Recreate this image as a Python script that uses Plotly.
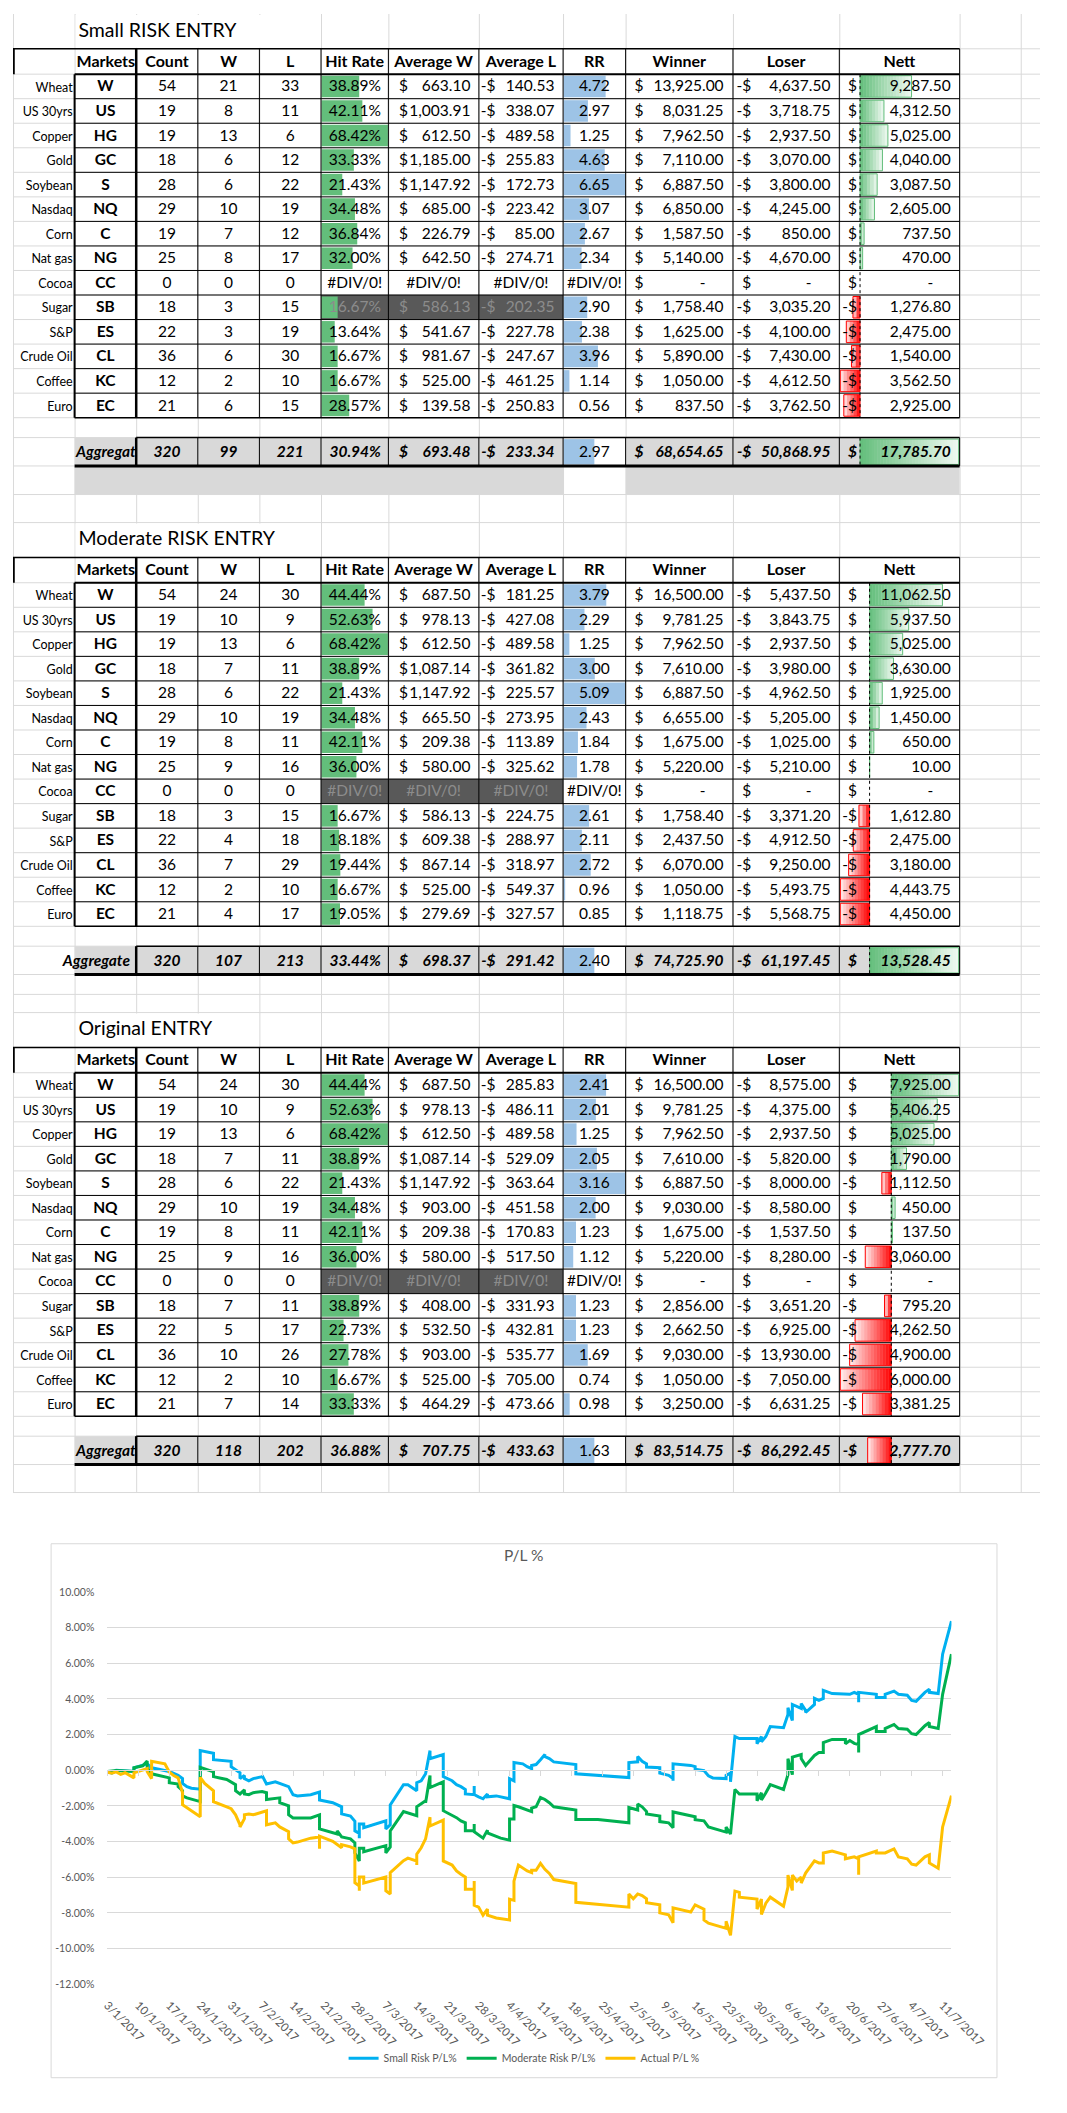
import plotly.graph_objects as go

FIG_W, FIG_H = 1067, 2113

# =============================================================================
# SHEET DATA (three result tables)
# =============================================================================
LABELS = ["Wheat", "US 30yrs", "Copper", "Gold", "Soybean", "Nasdaq", "Corn",
          "Nat gas", "Cocoa", "Sugar", "S&P", "Crude Oil", "Coffee", "Euro"]
CODES = ["W", "US", "HG", "GC", "S", "NQ", "C", "NG", "CC", "SB", "ES", "CL", "KC", "EC"]
COUNT = [54, 19, 19, 18, 28, 29, 19, 25, 0, 18, 22, 36, 12, 21]
HEADERS = ["Markets", "Count", "W", "L", "Hit Rate", "Average W", "Average L",
           "RR", "Winner", "Loser", "Nett"]

SMALL_W = [21, 8, 13, 6, 6, 10, 7, 8, 0, 3, 3, 6, 2, 6]
SMALL_L = [33, 11, 6, 12, 22, 19, 12, 17, 0, 15, 19, 30, 10, 15]
SMALL_HIT = [38.89, 42.11, 68.42, 33.33, 21.43, 34.48, 36.84, 32.00, None, 16.67, 13.64, 16.67, 16.67, 28.57]
SMALL_AVG_W = [663.10, 1003.91, 612.50, 1185.00, 1147.92, 685.00, 226.79, 642.50, None, 586.13, 541.67, 981.67, 525.00, 139.58]
SMALL_AVG_L = [-140.53, -338.07, -489.58, -255.83, -172.73, -223.42, -85.00, -274.71, None, -202.35, -227.78, -247.67, -461.25, -250.83]
SMALL_RR = [4.72, 2.97, 1.25, 4.63, 6.65, 3.07, 2.67, 2.34, None, 2.90, 2.38, 3.96, 1.14, 0.56]
SMALL_WINNER = [13925.00, 8031.25, 7962.50, 7110.00, 6887.50, 6850.00, 1587.50, 5140.00, 0, 1758.40, 1625.00, 5890.00, 1050.00, 837.50]
SMALL_LOSER = [-4637.50, -3718.75, -2937.50, -3070.00, -3800.00, -4245.00, -850.00, -4670.00, 0, -3035.20, -4100.00, -7430.00, -4612.50, -3762.50]
SMALL_NETT = [9287.50, 4312.50, 5025.00, 4040.00, 3087.50, 2605.00, 737.50, 470.00, 0, -1276.80, -2475.00, -1540.00, -3562.50, -2925.00]
SMALL_TOTAL = [320, 99, 221, 30.94, 693.48, -233.34, 2.97, 68654.65, -50868.95, 17785.70]

MOD_W = [24, 10, 13, 7, 6, 10, 8, 9, 0, 3, 4, 7, 2, 4]
MOD_L = [30, 9, 6, 11, 22, 19, 11, 16, 0, 15, 18, 29, 10, 17]
MOD_HIT = [44.44, 52.63, 68.42, 38.89, 21.43, 34.48, 42.11, 36.00, None, 16.67, 18.18, 19.44, 16.67, 19.05]
MOD_AVG_W = [687.50, 978.13, 612.50, 1087.14, 1147.92, 665.50, 209.38, 580.00, None, 586.13, 609.38, 867.14, 525.00, 279.69]
MOD_AVG_L = [-181.25, -427.08, -489.58, -361.82, -225.57, -273.95, -113.89, -325.62, None, -224.75, -288.97, -318.97, -549.37, -327.57]
MOD_RR = [3.79, 2.29, 1.25, 3.00, 5.09, 2.43, 1.84, 1.78, None, 2.61, 2.11, 2.72, 0.96, 0.85]
MOD_WINNER = [16500.00, 9781.25, 7962.50, 7610.00, 6887.50, 6655.00, 1675.00, 5220.00, 0, 1758.40, 2437.50, 6070.00, 1050.00, 1118.75]
MOD_LOSER = [-5437.50, -3843.75, -2937.50, -3980.00, -4962.50, -5205.00, -1025.00, -5210.00, 0, -3371.20, -4912.50, -9250.00, -5493.75, -5568.75]
MOD_NETT = [11062.50, 5937.50, 5025.00, 3630.00, 1925.00, 1450.00, 650.00, 10.00, 0, -1612.80, -2475.00, -3180.00, -4443.75, -4450.00]
MOD_TOTAL = [320, 107, 213, 33.44, 698.37, -291.42, 2.40, 74725.90, -61197.45, 13528.45]

ORIG_W = [24, 10, 13, 7, 6, 10, 8, 9, 0, 7, 5, 10, 2, 7]
ORIG_L = [30, 9, 6, 11, 22, 19, 11, 16, 0, 11, 17, 26, 10, 14]
ORIG_HIT = [44.44, 52.63, 68.42, 38.89, 21.43, 34.48, 42.11, 36.00, None, 38.89, 22.73, 27.78, 16.67, 33.33]
ORIG_AVG_W = [687.50, 978.13, 612.50, 1087.14, 1147.92, 903.00, 209.38, 580.00, None, 408.00, 532.50, 903.00, 525.00, 464.29]
ORIG_AVG_L = [-285.83, -486.11, -489.58, -529.09, -363.64, -451.58, -170.83, -517.50, None, -331.93, -432.81, -535.77, -705.00, -473.66]
ORIG_RR = [2.41, 2.01, 1.25, 2.05, 3.16, 2.00, 1.23, 1.12, None, 1.23, 1.23, 1.69, 0.74, 0.98]
ORIG_WINNER = [16500.00, 9781.25, 7962.50, 7610.00, 6887.50, 9030.00, 1675.00, 5220.00, 0, 2856.00, 2662.50, 9030.00, 1050.00, 3250.00]
ORIG_LOSER = [-8575.00, -4375.00, -2937.50, -5820.00, -8000.00, -8580.00, -1537.50, -8280.00, 0, -3651.20, -6925.00, -13930.00, -7050.00, -6631.25]
ORIG_NETT = [7925.00, 5406.25, 5025.00, 1790.00, -1112.50, 450.00, 137.50, -3060.00, 0, -795.20, -4262.50, -4900.00, -6000.00, -3381.25]
ORIG_TOTAL = [320, 118, 202, 36.88, 707.75, -433.63, 1.63, 83514.75, -86292.45, -2777.70]

# =============================================================================
# CHART DATA: cumulative P/L % (date as MM-DD in 2017, value in %)
# =============================================================================
SMALL_RISK_PL = [
    ("01-03", -0.07), ("01-04", -0.16), ("01-05", 0.00), ("01-09", -0.07), ("01-09", 0.14),
    ("01-12", 0.36), ("01-13", 0.14), ("01-17", -0.07), ("01-19", -0.29), ("01-20", -0.47),
    ("01-20", -0.74), ("01-21", -0.92), ("01-22", -1.01), ("01-24", -1.06), ("01-24", 1.10),
    ("01-27", 0.95), ("01-27", 0.59), ("01-31", 0.50), ("01-31", 0.20), ("02-02", -0.14),
    ("02-02", -0.47), ("02-03", -0.29), ("02-03", -0.47), ("02-04", -0.59), ("02-05", -0.47),
    ("02-07", -0.36), ("02-07", -0.29), ("02-08", -0.77), ("02-10", -0.65), ("02-11", -0.74),
    ("02-13", -0.92), ("02-14", -1.37), ("02-15", -1.44), ("02-18", -1.37), ("02-20", -1.22),
    ("02-20", -1.67), ("02-23", -1.82), ("02-25", -2.05), ("02-25", -2.45), ("02-27", -2.57),
    ("02-28", -2.86), ("02-28", -3.40), ("03-01", -3.54), ("03-01", -3.81), ("03-01", -3.02),
    ("03-02", -3.02), ("03-02", -3.22), ("03-07", -2.84), ("03-07", -3.29), ("03-08", -3.06),
    ("03-08", -1.94), ("03-11", -0.81), ("03-12", -0.81), ("03-14", -1.15), ("03-14", -0.70),
    ("03-15", -0.59), ("03-16", -0.20), ("03-17", 1.10), ("03-17", 0.65), ("03-20", 0.88),
    ("03-20", -0.36), ("03-22", -0.59), ("03-23", -0.81), ("03-24", -0.92), ("03-25", -1.08),
    ("03-25", -1.33), ("03-27", -1.37), ("03-27", -0.88), ("03-27", -1.37), ("03-28", -1.49),
    ("03-29", -1.60), ("03-30", -1.33), ("03-30", -1.49), ("04-01", -1.44), ("04-04", -1.60),
    ("04-04", -0.47), ("04-05", -0.59), ("04-05", 0.43), ("04-07", 0.36), ("04-08", 0.20),
    ("04-09", 0.09), ("04-09", 0.27), ("04-10", 0.32), ("04-11", 0.59), ("04-12", 0.88),
    ("04-12", 0.77), ("04-13", 0.65), ("04-14", 0.47), ("04-19", 0.32), ("04-19", -0.20),
    ("05-01", -0.41), ("05-01", 0.43), ("05-03", 0.47), ("05-03", 0.77), ("05-04", 0.50),
    ("05-05", 0.36), ("05-05", 0.18), ("05-08", 0.14), ("05-08", -0.16), ("05-10", -0.29),
    ("05-11", -0.47), ("05-11", -0.59), ("05-11", 0.36), ("05-15", 0.27), ("05-16", 0.20),
    ("05-16", 0.05), ("05-18", -0.02), ("05-19", -0.31), ("05-20", -0.43), ("05-23", -0.47),
    ("05-23", -0.29), ("05-24", -0.16), ("05-24", -0.65), ("05-25", 1.89), ("05-26", 1.78),
    ("05-30", 1.78), ("05-30", 1.49), ("05-31", 1.89), ("05-31", 1.60), ("06-01", 1.89),
    ("06-02", 2.45), ("06-05", 2.39), ("06-06", 3.13), ("06-06", 3.51), ("06-07", 2.79),
    ("06-07", 3.69), ("06-08", 3.58), ("06-09", 3.47), ("06-09", 3.74), ("06-10", 3.36),
    ("06-10", 3.24), ("06-12", 3.69), ("06-12", 4.03), ("06-13", 3.92), ("06-14", 4.03),
    ("06-14", 4.48), ("06-16", 4.30), ("06-20", 4.26), ("06-21", 4.37), ("06-22", 4.26),
    ("06-22", 3.81), ("06-22", 4.37), ("06-26", 4.26), ("06-26", 4.08), ("06-28", 4.08),
    ("06-28", 4.26), ("06-30", 4.44), ("07-01", 4.26), ("07-03", 4.21), ("07-04", 3.92),
    ("07-05", 3.87), ("07-07", 4.37), ("07-08", 4.55), ("07-08", 4.37), ("07-10", 4.30),
    ("07-11", 6.51), ("07-13", 8.36),
]

MODERATE_RISK_PL = [
    ("01-03", -0.07), ("01-05", -0.02), ("01-09", -0.07), ("01-09", 0.14), ("01-11", 0.25),
    ("01-12", 0.52), ("01-12", 0.14), ("01-13", -0.20), ("01-17", -0.43), ("01-17", -0.70),
    ("01-19", -0.77), ("01-19", -0.92), ("01-20", -1.15), ("01-20", -1.44), ("01-21", -1.55),
    ("01-23", -1.71), ("01-24", -1.76), ("01-24", 0.16), ("01-25", 0.09), ("01-27", -0.09),
    ("01-27", -0.36), ("01-30", -0.52), ("02-01", -0.81), ("02-01", -1.15), ("02-02", -1.33),
    ("02-03", -1.10), ("02-03", -1.33), ("02-04", -1.37), ("02-05", -1.26), ("02-07", -1.19),
    ("02-08", -1.26), ("02-08", -1.64), ("02-11", -1.55), ("02-11", -1.82), ("02-13", -2.00),
    ("02-13", -2.50), ("02-14", -2.68), ("02-18", -2.68), ("02-20", -2.50), ("02-20", -3.29),
    ("02-24", -3.58), ("02-24", -3.40), ("02-25", -3.74), ("02-27", -3.85), ("02-28", -4.08),
    ("02-28", -4.64), ("03-01", -5.09), ("03-01", -4.37), ("03-02", -4.37), ("03-02", -4.57),
    ("03-07", -4.23), ("03-07", -4.64), ("03-08", -4.30), ("03-08", -3.40), ("03-11", -2.32),
    ("03-14", -2.55), ("03-14", -2.05), ("03-16", -1.71), ("03-16", -1.82), ("03-17", -0.29),
    ("03-17", -0.97), ("03-20", -0.65), ("03-20", -2.27), ("03-23", -2.66), ("03-24", -2.84),
    ("03-25", -2.95), ("03-25", -3.40), ("03-27", -3.40), ("03-27", -3.02), ("03-27", -3.45),
    ("03-29", -3.81), ("03-30", -3.36), ("03-30", -3.52), ("04-02", -3.81), ("04-04", -3.92),
    ("04-04", -2.73), ("04-05", -2.73), ("04-05", -1.98), ("04-06", -2.05), ("04-08", -2.23),
    ("04-09", -2.32), ("04-09", -2.12), ("04-10", -2.05), ("04-11", -1.53), ("04-12", -1.64),
    ("04-13", -1.82), ("04-14", -2.05), ("04-19", -2.23), ("04-19", -2.77), ("04-24", -2.77),
    ("05-01", -2.95), ("05-01", -2.09), ("05-03", -2.23), ("05-03", -1.89), ("05-04", -2.05),
    ("05-05", -2.32), ("05-05", -2.45), ("05-08", -2.57), ("05-08", -2.88), ("05-10", -2.95),
    ("05-11", -3.22), ("05-11", -2.34), ("05-15", -2.55), ("05-16", -2.61), ("05-16", -2.77),
    ("05-18", -2.84), ("05-19", -3.18), ("05-23", -3.47), ("05-23", -3.18), ("05-24", -3.58),
    ("05-25", -1.08), ("05-26", -1.33), ("05-30", -1.33), ("05-30", -1.71), ("05-31", -1.26),
    ("05-31", -1.67), ("06-01", -1.26), ("06-02", -0.81), ("06-05", -1.08), ("06-06", -0.25),
    ("06-06", 0.65), ("06-07", -0.25), ("06-07", 0.74), ("06-08", 0.83), ("06-09", 0.88),
    ("06-09", 0.65), ("06-10", 0.27), ("06-12", 0.83), ("06-13", 0.99), ("06-14", 0.99),
    ("06-14", 1.55), ("06-16", 1.73), ("06-19", 1.73), ("06-19", 1.49), ("06-20", 1.67),
    ("06-21", 1.51), ("06-22", 1.44), ("06-22", 0.99), ("06-22", 2.00), ("06-26", 2.45),
    ("06-26", 2.18), ("06-28", 2.18), ("06-28", 2.34), ("06-30", 2.57), ("07-01", 2.34),
    ("07-03", 2.30), ("07-04", 2.05), ("07-05", 2.00), ("07-07", 2.50), ("07-08", 2.68),
    ("07-08", 2.45), ("07-10", 2.34), ("07-11", 4.26), ("07-13", 6.51),
]

ACTUAL_PL = [
    ("01-03", -0.11), ("01-04", -0.16), ("01-05", -0.09), ("01-06", -0.23), ("01-07", -0.14),
    ("01-09", -0.43), ("01-09", -0.14), ("01-12", 0.09), ("01-12", -0.07), ("01-13", -0.47),
    ("01-13", 0.50), ("01-16", 0.36), ("01-17", -0.10), ("01-18", -0.30), ("01-19", -0.43),
    ("01-20", -1.26), ("01-20", -1.94), ("01-22", -2.27), ("01-24", -2.61), ("01-24", -0.40),
    ("01-25", -0.74), ("01-27", -1.15), ("01-27", -1.76), ("01-30", -2.05), ("01-31", -2.16),
    ("02-01", -2.50), ("02-02", -3.06), ("02-02", -3.18), ("02-03", -2.72), ("02-03", -2.50),
    ("02-04", -2.45), ("02-05", -2.50), ("02-07", -2.34), ("02-08", -2.27), ("02-08", -2.39),
    ("02-08", -3.06), ("02-10", -2.95), ("02-11", -3.18), ("02-13", -3.45), ("02-13", -3.85),
    ("02-14", -4.08), ("02-15", -4.03), ("02-18", -3.81), ("02-20", -3.74), ("02-20", -4.41),
    ("02-20", -3.70), ("02-23", -3.99), ("02-24", -4.17), ("02-25", -4.35), ("02-25", -4.17),
    ("02-27", -4.30), ("02-28", -4.41), ("02-28", -6.31), ("03-01", -6.49), ("03-01", -6.76),
    ("03-01", -5.99), ("03-02", -5.99), ("03-02", -6.33), ("03-07", -5.99), ("03-07", -6.76),
    ("03-08", -6.94), ("03-08", -5.74), ("03-11", -5.07), ("03-12", -4.93), ("03-14", -5.09),
    ("03-14", -5.32), ("03-14", -4.71), ("03-15", -4.35), ("03-16", -3.85), ("03-17", -2.63),
    ("03-17", -3.13), ("03-20", -2.80), ("03-20", -5.09), ("03-22", -5.32), ("03-23", -5.65),
    ("03-24", -5.83), ("03-25", -5.99), ("03-25", -6.67), ("03-27", -6.67), ("03-27", -6.22),
    ("03-27", -7.57), ("03-28", -7.68), ("03-29", -8.13), ("03-30", -7.79), ("03-30", -8.13),
    ("04-01", -8.29), ("04-04", -8.40), ("04-04", -7.23), ("04-05", -7.30), ("04-05", -6.22),
    ("04-06", -5.32), ("04-08", -5.65), ("04-09", -5.74), ("04-09", -5.61), ("04-10", -5.61),
    ("04-11", -5.23), ("04-12", -5.56), ("04-13", -5.79), ("04-14", -6.13), ("04-19", -6.35),
    ("04-19", -7.41), ("05-01", -7.68), ("05-01", -6.94), ("05-02", -7.21), ("05-03", -6.94),
    ("05-04", -7.03), ("05-05", -7.21), ("05-05", -7.43), ("05-08", -7.55), ("05-08", -8.00),
    ("05-10", -8.11), ("05-11", -8.56), ("05-11", -7.72), ("05-15", -7.95), ("05-16", -7.55),
    ("05-18", -7.79), ("05-18", -8.40), ("05-19", -8.58), ("05-23", -8.87), ("05-23", -8.47),
    ("05-24", -9.26), ("05-25", -6.78), ("05-26", -6.85), ("05-26", -7.12), ("05-30", -7.23),
    ("05-30", -7.79), ("05-31", -7.23), ("05-31", -8.09), ("06-01", -7.46), ("06-02", -7.12),
    ("06-05", -7.63), ("06-06", -6.56), ("06-06", -5.88), ("06-07", -6.74), ("06-07", -5.88),
    ("06-08", -6.22), ("06-09", -5.99), ("06-09", -6.33), ("06-10", -5.77), ("06-12", -5.09),
    ("06-13", -5.20), ("06-14", -5.20), ("06-14", -4.64), ("06-16", -4.53), ("06-19", -4.75),
    ("06-19", -4.97), ("06-21", -4.86), ("06-22", -4.97), ("06-22", -5.86), ("06-22", -4.86),
    ("06-26", -4.53), ("06-26", -4.64), ("06-28", -4.64), ("06-30", -4.41), ("07-01", -4.86),
    ("07-03", -4.97), ("07-04", -5.27), ("07-05", -5.32), ("07-07", -4.86), ("07-08", -4.75),
    ("07-08", -5.20), ("07-10", -5.50), ("07-11", -3.18), ("07-13", -1.42),
]

Y_TICKS = [-12, -10, -8, -6, -4, -2, 0, 2, 4, 6, 8, 10]

# =============================================================================
# SHEET GEOMETRY (pixels of the screenshot)
# =============================================================================
COL_X = [0, 64, 128, 192, 256, 320, 390, 484, 571.5, 636.5, 748, 858.5, 983.5, 1047]
TITLE_H, HEAD_H, ROW_H, BLANK_H, AGG_H = 35, 25.5, 24.68, 20, 28.5
EXTRA_ROW_LINES = [483.3, 986.0, 1487.0]
SHEET_BOTTOM = 1487

GRID = "#D9D9D9"
AGG_FILL = "#D9D9D9"
DARK_FILL = "#595959"
DARK_TEXT = "#8C8C8C"
HIT_COLOR = "#63BE7B"
RR_COLOR = "#9DC3E6"
POS_BAR, POS_PALE = "#63BE7B", "#F0F9F2"
NEG_BAR, NEG_PALE = "#FF0000", "#FFEFEF"
FONT = "Lato"
CHART_TEXT = "#595959"
CELL_SIZE, HEAD_SIZE, TITLE_SIZE, LABEL_SIZE = 15.5, 16, 19.5, 12.5

TABLES = [
    dict(title="Small RISK ENTRY", top=0, cover=320, agg_label="Aggregat", agg_right=127.5,
         dark_row=9, w=SMALL_W, l=SMALL_L, hit=SMALL_HIT, avg_w=SMALL_AVG_W, avg_l=SMALL_AVG_L,
         rr=SMALL_RR, winner=SMALL_WINNER, loser=SMALL_LOSER, nett=SMALL_NETT,
         total=SMALL_TOTAL, strip=True),
    dict(title="Moderate RISK ENTRY", top=511.5, cover=320, agg_label="Aggregate", agg_right=121.5,
         dark_row=8, w=MOD_W, l=MOD_L, hit=MOD_HIT, avg_w=MOD_AVG_W, avg_l=MOD_AVG_L,
         rr=MOD_RR, winner=MOD_WINNER, loser=MOD_LOSER, nett=MOD_NETT,
         total=MOD_TOTAL, strip=False),
    dict(title="Original ENTRY", top=1004.3, cover=256, agg_label="Aggregat", agg_right=127.5,
         dark_row=8, w=ORIG_W, l=ORIG_L, hit=ORIG_HIT, avg_w=ORIG_AVG_W, avg_l=ORIG_AVG_L,
         rr=ORIG_RR, winner=ORIG_WINNER, loser=ORIG_LOSER, nett=ORIG_NETT,
         total=ORIG_TOTAL, strip=False),
]

# accounting columns: (sign right edge, number right edge, zero dash right edge)
ACCT_POS = {6: (410.5, 475.2, 456), 7: (501.4, 562.5, 545), 9: (655.0, 738.3, 719.5),
            10: (767.1, 849.3, 829.5), 11: (877.0, 974.3, 956.0)}

fig = go.Figure()
SHAPES_BELOW, SHAPES_ABOVE = [], []
TEXT = {}


def rect(x0, y0, x1, y1, color):
    SHAPES_BELOW.append(dict(
        type="rect", xref="x", yref="y", x0=x0, y0=y0, x1=x1, y1=y1,
        fillcolor=color, line=dict(width=0), layer="below"))


def seg(x0, y0, x1, y1, color="#000000", width=1.0, dash="solid", below=False):
    (SHAPES_BELOW if below else SHAPES_ABOVE).append(dict(
        type="line", xref="x", yref="y", x0=x0, y0=y0, x1=x1, y1=y1,
        line=dict(color=color, width=width, dash=dash),
        layer="below" if below else "above"))


def put(x, y, s, anchor="center", size=CELL_SIZE, color="#000000"):
    pos = {"left": "middle right", "right": "middle left", "center": "middle center"}[anchor]
    d = TEXT.setdefault((pos, size), dict(x=[], y=[], text=[], color=[]))
    d["x"].append(x)
    d["y"].append(y)
    d["text"].append(s)
    d["color"].append(color)


def bi(s):
    return f"<b><i>{s}</i></b>"


def acct(col, v, y, color="#000000", style=lambda s: s):
    sign_r, num_r, dash_r = ACCT_POS[col]
    if v is None:
        put((COL_X[col] + COL_X[col + 1]) / 2, y, style("#DIV/0!"), color=color)
    elif v == 0:
        put(sign_r, y, style("$"), "right", color=color)
        put(dash_r, y, style("-"), "right", color=color)
    else:
        put(sign_r, y, style("-$" if v < 0 else "$"), "right", color=color)
        put(num_r, y, style(f"{abs(v):,.2f}"), "right", color=color)


def mix(c1, c2, f):
    a = [int(c1[i:i + 2], 16) for i in (1, 3, 5)]
    b = [int(c2[i:i + 2], 16) for i in (1, 3, 5)]
    return "#" + "".join(f"{round(p + (q - p) * f):02X}" for p, q in zip(a, b))


def grad_bar(x0, x1, y0, y1, solid, pale, solid_left):
    # Excel gradient data bar: solid at the axis, fading outwards
    n = max(2, int((x1 - x0) / 3))
    for k in range(n):
        f = (k + 0.5) / n
        rect(x0 + (x1 - x0) * k / n, y0, min(x1, x0 + (x1 - x0) * (k + 1) / n + 0.4), y1,
             mix(solid, pale, f if solid_left else 1 - f))
    SHAPES_BELOW.append(dict(type="rect", xref="x", yref="y", x0=x0, y0=y0, x1=x1, y1=y1,
                             fillcolor="rgba(0,0,0,0)", line=dict(color=solid, width=1),
                             layer="below"))


# ---- sheet gridlines -------------------------------------------------------
row_lines = list(EXTRA_ROW_LINES)
for t in TABLES:
    T = t["top"]
    data_top = T + TITLE_H + HEAD_H
    row_lines += [T, T + TITLE_H] + [data_top + i * ROW_H for i in range(15)]
    row_lines += [data_top + 14 * ROW_H + BLANK_H, data_top + 14 * ROW_H + BLANK_H + AGG_H]
for y in row_lines:
    if y > 0:
        seg(0, y, FIG_W, y, GRID, 1, below=True)
for x in COL_X:
    seg(x + 0.5, 0, x + 0.5, SHEET_BOTTOM, GRID, 1, below=True)

C = COL_X
for t in TABLES:
    T = t["top"]
    head_top = T + TITLE_H
    data_top = head_top + HEAD_H
    rows = [data_top + i * ROW_H for i in range(15)]
    data_bot = rows[-1]
    agg_top = data_bot + BLANK_H
    agg_bot = agg_top + AGG_H

    # title overflow hides gridlines
    rect(C[1] + 1, T + 1, t["cover"] - 0.5, T + TITLE_H - 1, "#FFFFFF")
    # fills
    rect(C[1], agg_top, C[8], agg_bot, AGG_FILL)
    rect(C[9], agg_top, C[12], agg_bot, AGG_FILL)
    if t["strip"]:
        rect(C[1], agg_bot, C[8], agg_bot + 28.3, AGG_FILL)
        rect(C[9], agg_bot, C[12], agg_bot + 28.3, AGG_FILL)
    dr = t["dark_row"]
    rect(C[5], rows[dr], C[8], rows[dr + 1], DARK_FILL)

    # hit-rate bars (0 based), RR bars (lowest based)
    hits = [h for h in t["hit"] if h is not None]
    rrs = [r for r in t["rr"] if r is not None]
    for i in range(14):
        y0, y1 = rows[i] + 1.5, rows[i + 1] - 1.5
        if t["hit"][i] is not None:
            rect(C[5] + 0.5, y0, C[5] + 0.5 + t["hit"][i] / max(hits) * (C[6] - C[5] - 1), y1, HIT_COLOR)
        if t["rr"][i] is not None and t["rr"][i] > min(rrs):
            frac = (t["rr"][i] - min(rrs)) / (max(rrs) - min(rrs))
            rect(C[8] + 0.5, y0, C[8] + 0.5 + frac * (C[9] - C[8] - 1), y1, RR_COLOR)
    # single-cell data bar on the aggregate RR draws at half width
    rect(C[8] + 0.5, agg_top + 1.5, C[8] + 0.5 + 0.5 * (C[9] - C[8] - 1), agg_bot - 1.5, RR_COLOR)

    # Nett data bars with gradient, range includes the aggregate
    vals = t["nett"] + [t["total"][9]]
    mx, mn = max(max(vals), 0), min(min(vals), 0)
    nx0, nx1 = C[11] + 1, C[12] - 1
    axis = nx0 + (nx1 - nx0) * (-mn) / (mx - mn)
    bands = [(rows[i] + 1.5, rows[i + 1] - 1.5) for i in range(14)] + [(agg_top + 1.5, agg_bot - 1.5)]
    for v, (y0, y1) in zip(vals, bands):
        if v > 0:
            grad_bar(axis, axis + v / mx * (nx1 - axis), y0, y1, POS_BAR, POS_PALE, True)
        elif v < 0:
            grad_bar(axis - v / mn * (axis - nx0), axis, y0, y1, NEG_BAR, NEG_PALE, False)
    seg(axis, data_top, axis, data_bot, "#000000", 1, "dot")
    seg(axis, agg_top, axis, agg_bot, "#000000", 1, "dot")

    # borders
    seg(0, head_top, C[12], head_top, width=1.5)
    seg(0.8, head_top, 0.8, data_top, width=2)
    seg(C[1], data_top, C[12], data_top, width=2)
    for x in C[2:13]:
        seg(x, head_top, x, data_bot, width=2.5 if x == C[2] else 1)
    seg(C[1], data_top, C[1], data_bot, width=2)
    for y in rows[1:]:
        seg(C[1], y, C[12], y, width=1.5 if y == data_bot else 1)
    seg(C[2], agg_top, C[12], agg_top, width=1.5)
    seg(C[1], agg_bot, C[12], agg_bot, width=3)
    for x in C[2:13]:
        seg(x, agg_top, x, agg_bot, width=2.5 if x == C[2] else 1)

    # texts
    put(68, T + 18, t["title"], "left", TITLE_SIZE)
    hy = head_top + HEAD_H / 2 + 1.3
    put(C[1] + 2, hy, "<b>Markets</b>", "left", HEAD_SIZE)
    for k, h in enumerate(HEADERS[1:], start=2):
        put((C[k] + C[k + 1]) / 2, hy, f"<b>{h}</b>", size=HEAD_SIZE)

    for i in range(14):
        y = rows[i] + ROW_H / 2 + 1.2
        dark = DARK_TEXT if i == dr else "#000000"
        put(C[1] - 2, y + 0.8, LABELS[i], "right", LABEL_SIZE)
        put((C[1] + C[2]) / 2, y, f"<b>{CODES[i]}</b>")
        put((C[2] + C[3]) / 2, y, str(COUNT[i]))
        put((C[3] + C[4]) / 2, y, str(t["w"][i]))
        put((C[4] + C[5]) / 2, y, str(t["l"][i]))
        h = t["hit"][i]
        if h is None:
            put((C[5] + C[6]) / 2, y, "#DIV/0!", color=dark)
        else:
            put(C[6] - 7.8, y, f"{h:.2f}%", "right", color=dark)
        acct(6, t["avg_w"][i], y, dark)
        acct(7, t["avg_l"][i], y, dark)
        r = t["rr"][i]
        put((C[8] + C[9]) / 2, y, "#DIV/0!" if r is None else f"{r:.2f}")
        acct(9, t["winner"][i], y)
        acct(10, t["loser"][i], y)
        acct(11, t["nett"][i], y)

    tot = t["total"]
    ay = agg_top + AGG_H / 2 + 1.5
    put(t["agg_right"], ay, bi(t["agg_label"]), "right")
    put((C[2] + C[3]) / 2, ay, bi(tot[0]))
    put((C[3] + C[4]) / 2, ay, bi(tot[1]))
    put((C[4] + C[5]) / 2, ay, bi(tot[2]))
    put(C[6] - 7.8, ay, bi(f"{tot[3]:.2f}%"), "right")
    acct(6, tot[4], ay, style=bi)
    acct(7, tot[5], ay, style=bi)
    put((C[8] + C[9]) / 2, ay, f"{tot[6]:.2f}")
    acct(9, tot[7], ay, style=bi)
    acct(10, tot[8], ay, style=bi)
    acct(11, tot[9], ay, style=bi)

for (pos, size), d in TEXT.items():
    fig.add_trace(go.Scatter(
        x=d["x"], y=d["y"], text=d["text"], mode="text", textposition=pos,
        textfont=dict(family=FONT, size=size, color=d["color"]),
        xaxis="x", yaxis="y", cliponaxis=False, hoverinfo="skip", showlegend=False))

# =============================================================================
# LINE CHART
# =============================================================================
X0_PX, X1_PX = 98.1, 975.0
Y_TOP_PX, Y_BOT_PX = 1587.0, 1981.4
dom_x = [X0_PX / FIG_W, X1_PX / FIG_W]
dom_y = [1 - Y_BOT_PX / FIG_H, 1 - Y_TOP_PX / FIG_H]
zero_pos = dom_y[0] + (0 - Y_TICKS[0]) / (Y_TICKS[-1] - Y_TICKS[0]) * (dom_y[1] - dom_y[0])
WEEK_MS = 7 * 24 * 3600 * 1000
X_RANGE = ["2017-01-03", "2017-07-13"]

SERIES = [
    ("Small Risk P/L%", SMALL_RISK_PL, "#00B0F0"),
    ("Moderate Risk P/L%", MODERATE_RISK_PL, "#00B050"),
    ("Actual P/L %", ACTUAL_PL, "#FFC000"),
]
for name, pts, color in SERIES:
    fig.add_trace(go.Scatter(
        x=["2017-" + d for d, _ in pts], y=[v for _, v in pts], mode="lines", name=name,
        line=dict(color=color, width=3), xaxis="x2", yaxis="y2", hoverinfo="skip"))

# carrier for the zero-level category axis with its tick marks
fig.add_trace(go.Scatter(x=[X_RANGE[0]], y=[0], mode="markers", marker=dict(opacity=0),
                         xaxis="x3", yaxis="y2", showlegend=False, hoverinfo="skip"))

chart_box = dict(type="rect", xref="paper", yref="paper",
                 x0=39.6 / FIG_W, x1=1022.3 / FIG_W,
                 y0=1 - 2075.5 / FIG_H, y1=1 - 1538.5 / FIG_H,
                 line=dict(color=GRID, width=1), fillcolor="rgba(0,0,0,0)", layer="below")

fig.update_layout(
    width=FIG_W, height=FIG_H, autosize=False,
    margin=dict(l=0, r=0, t=0, b=0),
    paper_bgcolor="white", plot_bgcolor="rgba(0,0,0,0)",
    showlegend=True, hovermode=False,
    xaxis=dict(domain=[0, 1], range=[0, FIG_W], visible=False, fixedrange=True),
    yaxis=dict(domain=[0, 1], range=[FIG_H, 0], visible=False, fixedrange=True),
    xaxis2=dict(domain=dom_x, anchor="y2", type="date", range=X_RANGE,
                tick0=X_RANGE[0], dtick=WEEK_MS, tickformat="%-d/%-m/%Y", tickangle=45,
                showgrid=False, zeroline=False, showline=False,
                ticks="outside", ticklen=9, tickcolor="rgba(0,0,0,0)",
                tickfont=dict(family=FONT, size=11.5, color=CHART_TEXT)),
    xaxis3=dict(overlaying="x2", anchor="free", position=zero_pos, type="date",
                range=X_RANGE, tick0=X_RANGE[0], dtick=WEEK_MS,
                showline=True, linecolor=GRID, linewidth=1,
                ticks="outside", ticklen=5, tickcolor=GRID,
                showticklabels=False, showgrid=False, zeroline=False),
    yaxis2=dict(domain=dom_y, anchor="x2", range=[Y_TICKS[0], Y_TICKS[-1]],
                tickvals=Y_TICKS, ticktext=[f"{v:.2f}%" for v in Y_TICKS],
                showgrid=True, gridcolor=GRID, gridwidth=1, zeroline=False, showline=False,
                ticks="outside", ticklen=10, tickcolor="rgba(0,0,0,0)",
                tickfont=dict(family=FONT, size=10.5, color=CHART_TEXT)),
    legend=dict(orientation="h", x=531 / FIG_W, xanchor="center",
                y=1 - 2056 / FIG_H, yanchor="middle", bgcolor="rgba(0,0,0,0)",
                font=dict(family=FONT, size=10.5, color=CHART_TEXT)),
    annotations=[dict(text="P/L %", xref="paper", yref="paper", x=531 / FIG_W,
                      y=1 - 1561 / FIG_H, showarrow=False,
                      font=dict(family=FONT, size=15.5, color=CHART_TEXT))],
    shapes=SHAPES_BELOW + SHAPES_ABOVE + [chart_box],
)

fig.write_html("out.html")
